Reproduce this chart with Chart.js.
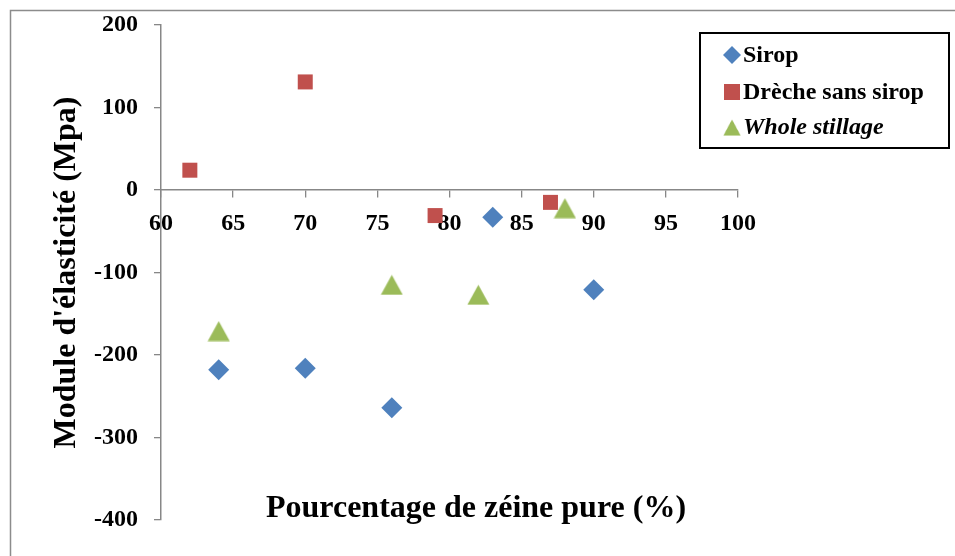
<!DOCTYPE html>
<html>
<head>
<meta charset="utf-8">
<script src="https://cdn.jsdelivr.net/npm/chart.js@4.4.1/dist/chart.umd.min.js"></script>
<style>
  html, body { margin: 0; padding: 0; background: #ffffff; }
  #wrap { position: relative; width: 955px; height: 556px; }
</style>
</head>
<body>
<div id="wrap"><canvas id="chart" width="955" height="556"></canvas></div>
<script>
// Zein percentage (x) and elastic modulus in MPa (y) for each formulation
const siropX = [64, 70, 76, 83, 90];
const siropY = [-218, -216, -264, -33, -121];
const drecheX = [62, 70, 79, 87];
const drecheY = [24, 131, -31, -15];
const wholeX = [64, 76, 82, 88];
const wholeY = [-171, -115, -127, -22];

const seriesNames = ['Sirop', 'Drèche sans sirop', 'Whole stillage'];
const xTitle = 'Pourcentage de zéine pure (%)';
const yTitle = "Module d'élasticité (Mpa)";
const xRange = [60, 100, 5];
const yRange = [-400, 200, 100];

const BLUE = '#4f81bd', RED = '#c0504d', GREEN = '#9bbb59';
const AXIS = '#878787';
const SERIF = '"Liberation Serif", "Times New Roman", serif';

function pairs(xs, ys) { return xs.map((x, i) => ({ x: x, y: ys[i] })); }

// Triangle marker centred on its bounding box
function triangleMarker(color) {
  const c = document.createElement('canvas');
  c.width = 23; c.height = 21;
  const g = c.getContext('2d');
  g.fillStyle = color;
  g.beginPath();
  g.moveTo(11.5, 0.5);
  g.lineTo(22.5, 20.5);
  g.lineTo(0.5, 20.5);
  g.closePath();
  g.fill();
  return c;
}
const triImg = triangleMarker(GREEN);

const decor = {
  id: 'decor',
  beforeDraw(chart) {
    const ctx = chart.ctx;
    ctx.save();
    ctx.strokeStyle = '#8c8c8c';
    ctx.lineWidth = 1.5;
    ctx.beginPath();
    ctx.moveTo(10.5, 556);
    ctx.lineTo(10.5, 10.5);
    ctx.lineTo(955, 10.5);
    ctx.stroke();
    ctx.restore();
  },
  afterDraw(chart) {
    const ctx = chart.ctx;
    ctx.save();
    // x axis title
    ctx.fillStyle = '#000';
    ctx.font = 'bold 32px ' + SERIF;
    ctx.textAlign = 'center';
    ctx.textBaseline = 'alphabetic';
    ctx.fillText(xTitle, 476, 517);

    // legend
    ctx.lineWidth = 2;
    ctx.strokeStyle = '#000';
    ctx.strokeRect(700, 33, 249, 115);
    const rows = [55, 92, 127];
    chart.data.datasets.forEach((ds, i) => {
      const y = rows[i];
      const x = 732;
      ctx.fillStyle = ds.backgroundColor;
      if (ds.pointStyle === 'rectRot') {
        ctx.beginPath();
        ctx.moveTo(x, y - 9); ctx.lineTo(x + 9, y); ctx.lineTo(x, y + 9); ctx.lineTo(x - 9, y);
        ctx.closePath(); ctx.fill();
      } else if (ds.pointStyle === 'rect') {
        ctx.fillRect(x - 8, y - 8, 16, 16);
      } else {
        ctx.drawImage(ds.pointStyle, x - 9, y - 8, 18, 17);
      }
      ctx.fillStyle = '#000';
      ctx.font = (i === 2 ? 'italic ' : '') + 'bold 24px ' + SERIF;
      ctx.textAlign = 'left';
      ctx.textBaseline = 'middle';
      ctx.fillText(ds.label, 743, y + 1);
    });
    ctx.restore();
  }
};

new Chart(document.getElementById('chart'), {
  type: 'scatter',
  data: {
    datasets: [
      { label: seriesNames[0], data: pairs(siropX, siropY), pointStyle: 'rectRot', pointRadius: 10.5,
        backgroundColor: BLUE, borderColor: BLUE, borderWidth: 0 },
      { label: seriesNames[1], data: pairs(drecheX, drecheY), pointStyle: 'rect', pointRadius: 10.6,
        backgroundColor: RED, borderColor: RED, borderWidth: 0 },
      { label: seriesNames[2], data: pairs(wholeX, wholeY), pointStyle: triImg, pointRadius: 11,
        backgroundColor: GREEN, borderColor: GREEN, borderWidth: 0 }
    ]
  },
  options: {
    responsive: false,
    animation: false,
    events: [],
    layout: { padding: { top: 25, bottom: 36, left: 46, right: 217 } },
    plugins: { legend: { display: false }, tooltip: { enabled: false } },
    scales: {
      x: {
        type: 'linear',
        position: { y: 0 },
        min: xRange[0], max: xRange[1],
        ticks: { stepSize: xRange[2], color: '#000', padding: 12,
                 font: { family: SERIF, size: 24, weight: 'bold' } },
        grid: { drawOnChartArea: false, drawTicks: true, tickLength: 7, color: AXIS, lineWidth: 1.3 },
        border: { display: true, color: AXIS, width: 1.5 }
      },
      y: {
        type: 'linear',
        min: yRange[0], max: yRange[1],
        afterFit(scale) {
          scale.width = 115;
          scale.paddingTop = 5;
          scale.paddingBottom = 5;
        },
        ticks: { stepSize: yRange[2], color: '#000', padding: 16,
                 font: { family: SERIF, size: 24, weight: 'bold' } },
        grid: { drawOnChartArea: false, drawTicks: true, tickLength: 7, color: AXIS, lineWidth: 1.3 },
        border: { display: true, color: AXIS, width: 1.5 },
        title: { display: true, text: yTitle, color: '#000', padding: { top: 2, bottom: 0 },
                 font: { family: SERIF, size: 32, weight: 'bold' } }
      }
    }
  },
  plugins: [decor]
});
</script>
</body>
</html>
